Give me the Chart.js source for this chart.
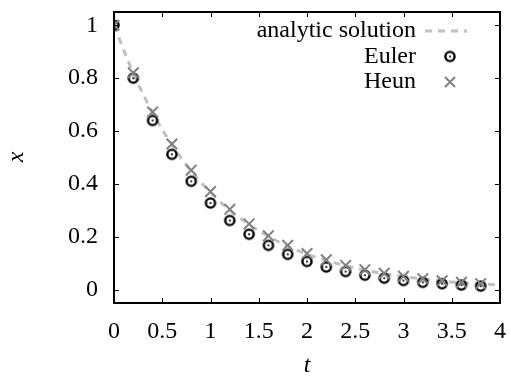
<!DOCTYPE html>
<html>
<head>
<meta charset="utf-8">
<script src="https://cdn.jsdelivr.net/npm/chart.js@4/dist/chart.umd.min.js"></script>
<style>
  html, body { margin: 0; padding: 0; background: #fff; }
  #wrap { width: 511px; height: 376px; }
</style>
</head>
<body>
<div id="wrap"><canvas id="odeChart" width="511" height="376"></canvas></div>
<script>
// time steps (h = 0.2)
const tSteps = [0, 0.2, 0.4, 0.6, 0.8, 1.0, 1.2, 1.4, 1.6, 1.8, 2.0, 2.2, 2.4, 2.6, 2.8, 3.0, 3.2, 3.4, 3.6, 3.8];
const eulerVals = [1, 0.80, 0.64, 0.512, 0.41, 0.328, 0.262, 0.21, 0.168, 0.134, 0.107, 0.086, 0.069, 0.055, 0.044, 0.035, 0.028, 0.023, 0.018, 0.014];
const heunVals = [1, 0.82, 0.672, 0.551, 0.452, 0.371, 0.304, 0.249, 0.204, 0.168, 0.137, 0.113, 0.092, 0.076, 0.062, 0.051, 0.042, 0.034, 0.028, 0.023];

// analytic curve samples
const tCurve = [0, 0.2, 0.4, 0.6, 0.8, 1.0, 1.2, 1.4, 1.6, 1.8, 2.0, 2.2, 2.4, 2.6, 2.8, 3.0, 3.2, 3.4, 3.6, 3.8, 4.0];
const analyticVals = [1, 0.819, 0.670, 0.549, 0.449, 0.368, 0.301, 0.247, 0.202, 0.165, 0.135, 0.111, 0.091, 0.074, 0.061, 0.050, 0.041, 0.033, 0.027, 0.022, 0.018];

const xTicks = [0, 0.5, 1, 1.5, 2, 2.5, 3, 3.5, 4];
const yTicks = [0, 0.2, 0.4, 0.6, 0.8, 1];

const FONT = '"Liberation Serif", "DejaVu Serif", serif';
const FONT_SIZE = 24;
const dashColor = '#c0c0c0';
const crossColor = '#808080';

function toPoints(xs, ys) {
    return xs.map((x, i) => ({ x: x, y: ys[i] }));
}

// ring with a dot in the middle (gnuplot pt 6-ish)
function makeRing() {
    const c = document.createElement('canvas');
    c.width = 14; c.height = 14;
    const g = c.getContext('2d');
    g.strokeStyle = '#000';
    g.lineWidth = 2.4;
    g.beginPath();
    g.arc(7, 7, 4.6, 0, Math.PI * 2);
    g.stroke();
    g.fillStyle = '#000';
    g.beginPath();
    g.arc(7, 7, 1.1, 0, Math.PI * 2);
    g.fill();
    return c;
}
const ringImg = makeRing();

// no extra room for overhanging tick labels
function noPad(s) {
    s.paddingTop = 0; s.paddingBottom = 0;
    s.paddingLeft = 0; s.paddingRight = 0;
}

// frame, inward ticks on all four sides, axis titles and legend
const gnuplotStyle = {
    id: 'gnuplotStyle',
    afterDraw(chart) {
        const ctx = chart.ctx;
        const a = chart.chartArea;
        const xs = chart.scales.x, ys = chart.scales.y;
        ctx.save();
        ctx.strokeStyle = '#000';
        ctx.lineWidth = 1;
        ctx.beginPath();
        xTicks.forEach(v => {
            const px = Math.round(xs.getPixelForValue(v)) + 0.5;
            ctx.moveTo(px, a.bottom); ctx.lineTo(px, a.bottom - 5);
            ctx.moveTo(px, a.top); ctx.lineTo(px, a.top + 5);
        });
        yTicks.forEach(v => {
            const py = Math.round(ys.getPixelForValue(v)) + 0.5;
            ctx.moveTo(a.left, py); ctx.lineTo(a.left + 5, py);
            ctx.moveTo(a.right, py); ctx.lineTo(a.right - 5, py);
        });
        ctx.stroke();
        ctx.lineWidth = 2;
        ctx.strokeRect(a.left, a.top, a.right - a.left, a.bottom - a.top);

        // axis titles
        ctx.fillStyle = '#000';
        ctx.font = 'italic ' + FONT_SIZE + 'px ' + FONT;
        ctx.textAlign = 'center';
        ctx.textBaseline = 'middle';
        ctx.fillText('t', 307, 366);
        ctx.save();
        ctx.translate(17, 157);
        ctx.rotate(-Math.PI / 2);
        ctx.fillText('x', 0, 0);
        ctx.restore();

        // legend, text right aligned with sample on the right
        ctx.font = FONT_SIZE + 'px ' + FONT;
        ctx.textAlign = 'right';
        const rows = [
            { label: 'analytic solution', kind: 'line' },
            { label: 'Euler', kind: 'ring' },
            { label: 'Heun', kind: 'cross' }
        ];
        const textRight = 416, sampleX = 450, rowY0 = 31, rowH = 25.5;
        rows.forEach((r, i) => {
            const y = rowY0 + i * rowH;
            ctx.fillStyle = '#000';
            ctx.fillText(r.label, textRight, y);
            if (r.kind === 'line') {
                ctx.strokeStyle = dashColor;
                ctx.lineWidth = 3;
                ctx.setLineDash([7, 6]);
                ctx.beginPath();
                ctx.moveTo(425, y); ctx.lineTo(467, y);
                ctx.stroke();
                ctx.setLineDash([]);
            } else if (r.kind === 'ring') {
                ctx.drawImage(ringImg, sampleX - 7, y - 7);
            } else {
                ctx.strokeStyle = crossColor;
                ctx.lineWidth = 2;
                ctx.beginPath();
                ctx.moveTo(sampleX - 5, y - 5); ctx.lineTo(sampleX + 5, y + 5);
                ctx.moveTo(sampleX + 5, y - 5); ctx.lineTo(sampleX - 5, y + 5);
                ctx.stroke();
            }
        });
        ctx.restore();
    }
};

const ctx = document.getElementById('odeChart').getContext('2d');
new Chart(ctx, {
    type: 'scatter',
    data: {
        datasets: [
            {
                label: 'analytic solution',
                type: 'line',
                data: toPoints(tCurve, analyticVals),
                borderColor: dashColor,
                borderWidth: 3,
                borderDash: [7, 6],
                pointRadius: 0,
                tension: 0.4,
                fill: false,
                order: 3
            },
            {
                label: 'Euler',
                data: toPoints(tSteps, eulerVals),
                pointStyle: ringImg,
                pointRadius: 7,
                order: 2
            },
            {
                label: 'Heun',
                data: toPoints(tSteps, heunVals),
                pointStyle: 'crossRot',
                pointRadius: 7.5,
                borderColor: crossColor,
                backgroundColor: crossColor,
                borderWidth: 2,
                order: 1
            }
        ]
    },
    options: {
        responsive: false,
        animation: false,
        devicePixelRatio: 1,
        layout: { padding: { top: 12, right: 11, left: 0, bottom: 0 } },
        plugins: {
            legend: { display: false },
            tooltip: { enabled: false }
        },
        scales: {
            x: {
                type: 'linear',
                min: 0,
                max: 4,
                afterFit: s => { s.height = 73; noPad(s); },
                afterBuildTicks: s => { s.ticks = xTicks.map(v => ({ value: v })); },
                grid: { display: false, drawTicks: false },
                border: { display: false },
                ticks: {
                    color: '#000',
                    padding: 14,
                    maxRotation: 0,
                    autoSkip: false,
                    callback: v => String(v),
                    font: { family: FONT, size: FONT_SIZE }
                }
            },
            y: {
                type: 'linear',
                min: -0.05,
                max: 1.05,
                afterFit: s => { s.width = 114; noPad(s); },
                afterBuildTicks: s => { s.ticks = yTicks.map(v => ({ value: v })); },
                grid: { display: false, drawTicks: false },
                border: { display: false },
                ticks: {
                    color: '#000',
                    padding: 16,
                    autoSkip: false,
                    callback: v => String(v),
                    font: { family: FONT, size: FONT_SIZE }
                }
            }
        }
    },
    plugins: [gnuplotStyle]
});
</script>
</body>
</html>
